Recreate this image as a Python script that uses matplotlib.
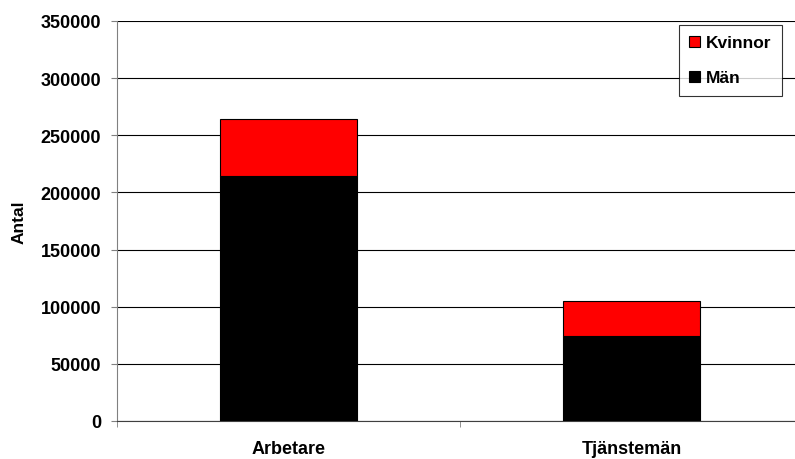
import matplotlib.pyplot as plt
import numpy as np

# data
categories = ["Arbetare", "Tjänstemän"]
man = [214000, 74800]
kvinnor = [50600, 30500]
yticks = [0, 50000, 100000, 150000, 200000, 250000, 300000, 350000]

plt.rcParams['font.family'] = ['Liberation Sans', 'DejaVu Sans']

fig = plt.figure(figsize=(7.95, 4.6), dpi=100)
ax = fig.add_axes([117 / 795, 38 / 460, 686 / 795, 400 / 460])

x = np.arange(len(categories))
ax.bar(x, man, width=0.4, color='black', edgecolor='black', linewidth=0.8,
       label='Män', zorder=3)
ax.bar(x, kvinnor, bottom=man, width=0.4, color='#ff0000', edgecolor='black',
       linewidth=0.8, label='Kvinnor', zorder=3)

ax.set_xlim(-0.5, len(categories) - 0.5)
ax.set_ylim(0, 350000)
ax.set_yticks(yticks)
ax.set_yticklabels([str(v) for v in yticks], fontsize=13, fontweight='bold')
ax.yaxis.grid(True, color='black', linewidth=0.8, zorder=0)

# category labels in the middle, tick marks between categories
ax.set_xticks(x)
ax.set_xticklabels(categories, fontsize=13, fontweight='bold')
ax.tick_params(axis='x', length=0, pad=14)
ax.set_xticks(np.arange(-0.5, len(categories)), minor=True)
ax.tick_params(axis='x', which='minor', length=4.5, color='#808080')
ax.tick_params(axis='y', length=4.5, color='#808080', pad=7)

ax.set_ylabel('Antal', fontsize=12.5, fontweight='bold', labelpad=10)

for s in ['top', 'right']:
    ax.spines[s].set_visible(False)
ax.spines['left'].set_color('#808080')
ax.spines['bottom'].set_color('#404040')

handles, labels = ax.get_legend_handles_labels()
leg = fig.legend(handles[::-1], labels[::-1], loc='upper left',
                 bbox_to_anchor=(679 / 795, 1 - 26 / 460), prop={'weight': 'bold', 'size': 12.5},
                 frameon=True, fancybox=False, edgecolor='black', handlelength=0.6,
                 handleheight=0.6, handletextpad=0.35, labelspacing=1.15, borderpad=0.6,
                 borderaxespad=0)
leg.get_frame().set_linewidth(0.8)

fig.savefig('out.png', dpi=100)
